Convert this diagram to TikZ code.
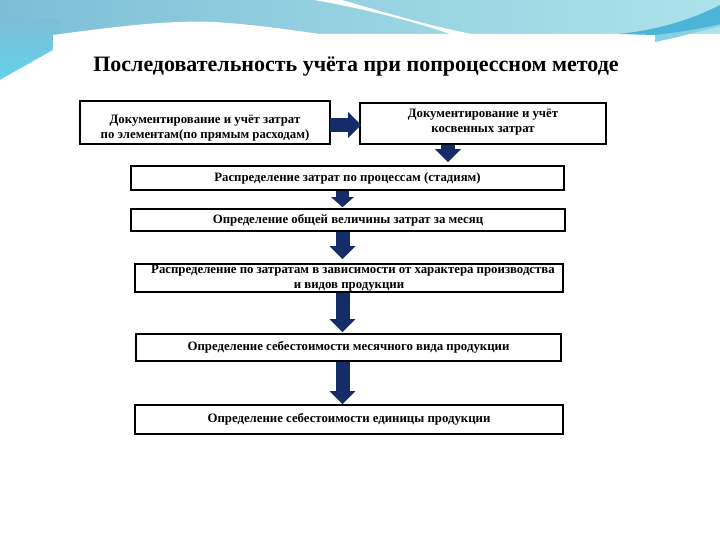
\documentclass[tikz,border=0pt]{standalone}
\usepackage{fontspec}
\setmainfont{Liberation Serif}
\usetikzlibrary{arrows.meta,calc}
\definecolor{navy}{RGB}{20,45,105}
\definecolor{bgA}{RGB}{125,190,215}
\definecolor{bgB}{RGB}{150,210,225}
\definecolor{bgC}{RGB}{172,226,234}
\definecolor{cyanL}{RGB}{95,212,236}
\definecolor{swoosh}{RGB}{75,180,215}
\definecolor{swoosh2}{RGB}{135,208,228}
\begin{document}
\begin{tikzpicture}[x=1pt,y=-1pt,
  box/.style={draw=black, line width=1.6pt, fill=white, inner sep=1pt, align=center,
              font=\bfseries\fontsize{12.8}{15}\selectfont},
  blockarrow/.style={draw=navy, line width=14pt, -{Triangle[width=25pt,length=13pt]}}]
\useasboundingbox (0,0) rectangle (720,540);
% background decoration
\shade[left color=bgA, right color=bgC, middle color=bgB] (0,0) rectangle (720,48);
\shade[top color=bgA, bottom color=cyanL] (0,20) rectangle (60,85);
\fill[white] (314,0) -- (342,0) .. controls (390,14) and (430,26) .. (472,34) -- (450,34) .. controls (410,20) and (360,8) .. cycle;
\fill[white] (0,80) -- (53,50) -- (53,35) .. controls (120,26) and (170,20) .. (215,22)
  .. controls (260,25) and (290,30) .. (320,34) -- (720,34) -- (720,540) -- (0,540) -- cycle;
\fill[swoosh2] (655,34) -- (655,42) .. controls (680,37) and (700,31) .. (720,26) -- (720,14) -- cycle;
\fill[swoosh] (618,34) .. controls (660,30) and (695,18) .. (720,5) -- (720,24) .. controls (695,30) and (672,33) .. (655,35) -- cycle;
% title
\node[font=\bfseries\fontsize{22}{26}\selectfont, anchor=base] (title) at (356,72)
  {Последовательность учёта при попроцессном методе};
% boxes
\node[box, minimum width=250pt, minimum height=43pt] (A) at (205,122.5)
  {\rule{0pt}{0pt}\\[4pt]Документирование и учёт затрат\\по элементам(по прямым расходам)};
\node[box, minimum width=246pt, minimum height=41pt, anchor=north] (B) at (483,102)
  {\rule{0pt}{0pt}\\[-9pt]Документирование и учёт\\косвенных затрат};
\node[box, minimum width=433pt, minimum height=24pt] (C) at (347.5,178)
  {Распределение затрат по процессам (стадиям)};
\node[box, minimum width=434pt, minimum height=22pt] (D) at (348,220)
  {Определение общей величины затрат за месяц};
\node[box, minimum width=428pt, minimum height=28pt] (E) at (349,278)
  {\hspace*{8pt}Распределение по затратам в зависимости от характера производства\\и видов продукции};
\node[box, minimum width=425pt, minimum height=27pt] (F) at (348.5,347.5)
  {Определение себестоимости месячного вида продукции};
\node[box, minimum width=428pt, minimum height=29pt] (G) at (349,419.5)
  {Определение себестоимости единицы продукции};
% arrows
\coordinate (ax) at (342.5,0);
\coordinate (bx) at (448,0);
\coordinate (ry) at (0,125);
\draw[blockarrow, shorten <=-1pt] (A.east |- ry) -- ($(B.west |- ry)+(2,0)$);
\draw[blockarrow, shorten >=3pt] (B.south -| bx) -- (C.north -| bx);
\draw[blockarrow, -{Triangle[width=22pt,length=10pt]}, line width=13pt, shorten >=1pt] (C.south -| ax) -- (D.north -| ax);
\draw[blockarrow, shorten >=4pt] (D.south -| ax) -- (E.north -| ax);
\draw[blockarrow, shorten >=1pt] (E.south -| ax) -- (F.north -| ax);
\draw[blockarrow, shorten >=0pt] (F.south -| ax) -- (G.north -| ax);
\end{tikzpicture}
\end{document}
